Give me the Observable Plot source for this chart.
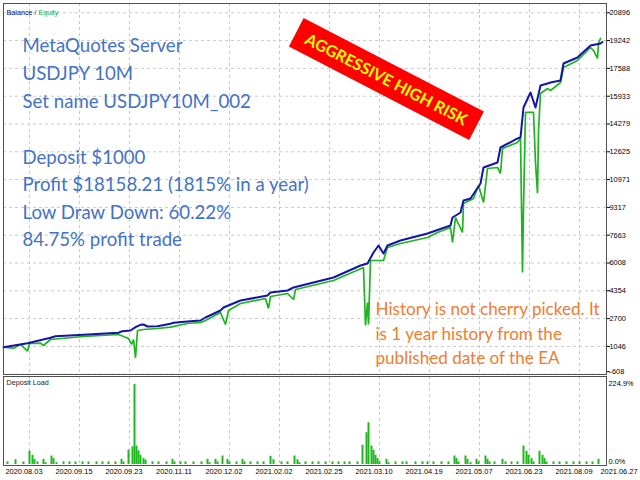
<!DOCTYPE html>
<html><head><meta charset="utf-8">
<script src="https://cdn.jsdelivr.net/npm/d3@7"></script>
<script src="https://cdn.jsdelivr.net/npm/@observablehq/plot@0.6"></script>
<style>
html,body{margin:0;padding:0;background:#fff;}
#wrap{position:relative;width:640px;height:480px;overflow:hidden;background:#fff;}
#wrap svg{position:absolute;left:0;overflow:visible;}
#banner{position:absolute;background:#ff0000;color:#ffff00;font-family:Lato;font-weight:bold;
  display:flex;align-items:center;justify-content:center;white-space:nowrap;transform-origin:center center;}
</style></head>
<body><div id="wrap"></div>
<script>
// ---- data (x = trade number along the MT5 tester axis) ----
const balanceIdx = [0,12,23.5,26,40,57.5,59.5,63.5,66,68.5,70,72,77,83.5,85,92,98.5,101,108.5,110,118.5,132,133.5,142,145,165,178.5,182,185,187.5,190,192,198.5,212,223.5,224.5,228.5,230,233.5,238.5,240,247,248.5,257,258.5,260,263.5,266,268.5,272,273.5,278.5,280,287,293.5,298.5,299.5];
const balanceVal = [1000,1237,1558,1654,1737,1856,1951,1993,2189,2332,2350,2231,2249,2391,2451,2528,2588,2766,3183,3361,3778,4075,4254,4373,4551,5146,5860,5979,6634,7050,6574,7050,7348,7764,8240,8716,9014,9728,9847,10739,11691,11989,12881,13417,13476,15261,16154,15261,16570,16689,16749,16868,17879,18236,18950,19069,19158];
const equityIdx = [0,5,8.5,12,13,18.5,20,23.5,40,57.5,62.5,64,65,66,67,70,77,83.5,92,98.5,101,108.5,111,112.5,118.5,131,132.5,133.5,142,145,146,165,180,181,182,182.5,183.5,190,192,198.5,212,217,223.5,224.5,226,229.5,230,235,237.5,240,242,247,248.5,249.5,257,258.5,259.5,260,261,265,266,267,267.5,268.5,272,273.5,278.5,280,287,293.5,295,297,297.5,298.5];
const equityVal = [1000,940,1160,761,1219,1237,1100,1457,1636,1755,1517,1160,1457,368,1993,2052,2112,2189,2409,2469,2588,3064,2350,3183,3599,3897,3302,4016,4195,3837,4432,4968,5741,2290,3659,2350,6158,6158,6931,7169,7526,7824,8121,7229,8716,7824,9549,9847,10620,9609,11632,11691,11334,12822,13179,13417,5443,9311,14976,14976,11989,10157,13893,16094,16392,16273,16749,17642,18058,18831,18653,18177,19069,19367];
const loadIdx = [2,6,10,13,14.5,15.5,17,20,21,24,25,26.5,30,33,36,39.5,42.5,46.5,49.5,52.5,56,59,60,62.5,64.5,65.5,66.5,67.5,68.5,70,71,74.5,77.5,81.5,84.5,85.5,88.5,91,95,99,102,103,106,107,109.5,112,113,116.5,119.5,120.5,123.5,127,130,133.5,135,139,142,145.5,147,148,151,154.5,157.5,161,164.5,167.5,170.5,173,177,179.5,181.5,182.5,184,185,186,187,188,191.5,192.5,196,199.5,201.5,206,209.5,212,215,219,222.5,225.5,226.5,227.5,231,232,233.5,236.5,237.5,241,242,243,245.5,249.5,251,254,257,260,261.5,262.5,264,265,268,269.5,270.5,271.5,275,278,281.5,285,288,291.5,294.5,297.5];
const loadPct = [7,13,7,36,25,14,7,14,5,23,16,5,7,7,7,7,7,7,7,7,7,14,7,39,48,217,50,37,25,16,12,7,7,7,14,7,7,7,7,7,14,5,14,7,23,14,7,7,14,7,7,7,7,22,13,7,7,23,13,5,7,7,7,7,7,7,7,7,7,52,86,113,50,39,25,16,7,14,5,7,7,7,7,7,7,7,7,7,23,16,7,23,14,5,14,7,23,14,7,7,14,7,7,7,50,36,25,16,7,36,25,16,7,7,7,7,7,7,7,7,14];
const xTickIdx = [13,38,63,88,113,138,163,188,213,238,263,288,310.5];
const xTickLabels = ["2020.08.03","2020.09.15","2020.09.23","2020.11.11","2020.12.02","2021.02.02","2021.02.25","2021.03.10","2021.04.19","2021.05.07","2021.06.23","2021.08.09","2021.06.27"];
const yTicks = [-608,1046,2700,4354,6008,7663,9317,10971,12625,14279,15933,17588,19242,20896];
const loadTicks = [0,224.9];
const infoLines1 = ["MetaQuotes Server","USDJPY 10M","Set name USDJPY10M_002"];
const infoLines2 = ["Deposit $1000","Profit $18158.21 (1815% in a year)","Low Draw Down: 60.22%","84.75% profit trade"];
const noteLines = ["History is not cherry picked. It","is 1 year history from the","published date of the EA"];
const bannerText = "AGGRESSIVE HIGH RISK";

// ---- helpers ----
const balance = balanceIdx.map((x,i)=>({x, v: balanceVal[i]}));
const equity = equityIdx.map((x,i)=>({x, v: equityVal[i]}));
const loads = loadIdx.map((x,i)=>({x, p: loadPct[i]}));
const ctx = document.createElement("canvas").getContext("2d");
function textW(t, font){ ctx.font = font; return ctx.measureText(t).width; }
function fitSize(t, w, fam, wt="normal"){ return 100*w/textW(t, `${wt} 100px ${fam}`); }

const fsBlue = (fitSize(infoLines1[2], 226, "Lato") + fitSize(infoLines2[1], 290, "Lato"))/2;
const fsNote = fitSize(noteLines[0], 225, "Lato");
const fsLeg = fitSize("Balance / Equity", 52, "Liberation Sans");
const fsBanner = fitSize(bannerText, 180, "Lato", "bold");

const XDOM = [0, 301.5];
const gridCol = "#c9c9c9";
const frameCol = "#505050";
const axisStyle = {background:"transparent", fontFamily:"Liberation Sans", fontSize:"7.4px", color:"#000", overflow:"visible"};

// legend parts
const legParts = [["Balance","#00008b"],["/","#333"],["Equity","#1fa51f"]];
const spW = textW(" ", `${fsLeg}px Liberation Sans`);
let off = 3;
const legMarks = legParts.map(([t,c]) => {
  const m = Plot.text([t], {frameAnchor:"top-left", dx: off, dy: 8.7, lineAnchor:"middle", textAnchor:"start",
    text: d=>d, fill: c, fontSize: fsLeg, fontFamily: "Liberation Sans"});
  off += textW(t, `${fsLeg}px Liberation Sans`) + spW;
  return m;
});

const innerTicks = xTickIdx.filter(d => d <= XDOM[1]);

const main = Plot.plot({
  width: 640, height: 376,
  marginLeft: 3, marginRight: 34, marginTop: 3, marginBottom: 2,
  style: axisStyle,
  x: {domain: XDOM, axis: null},
  y: {domain: [-626, 21449], axis: null},
  marks: [
    Plot.gridY(yTicks, {stroke: gridCol, strokeOpacity: 1, strokeDasharray: "3,3"}),
    Plot.gridX(innerTicks, {stroke: gridCol, strokeOpacity: 1, strokeDasharray: "3,3"}),
    Plot.axisY(yTicks.slice(1), {anchor: "right", label: null, tickSize: 3, tickPadding: 0, tickFormat: d => String(d)}),
    Plot.axisY(yTicks.slice(0,1), {anchor: "right", label: null, tickSize: 3, tickPadding: 0, dy: -2.5, tickFormat: d => String(d)}),
    Plot.text([infoLines1.join("\n")], {frameAnchor:"top-left", dx: 19, dy: 29, lineAnchor:"top", textAnchor:"start",
      text: d=>d, fill:"#4472C4", fontSize: fsBlue, fontFamily:"Lato", lineHeight: 27.9/fsBlue}),
    Plot.text([infoLines2.join("\n")], {frameAnchor:"top-left", dx: 19, dy: 140.5, lineAnchor:"top", textAnchor:"start",
      text: d=>d, fill:"#4472C4", fontSize: fsBlue, fontFamily:"Lato", lineHeight: 27.5/fsBlue}),
    Plot.text([noteLines.join("\n")], {frameAnchor:"top-left", dx: 372, dy: 294, lineAnchor:"top", textAnchor:"start",
      text: d=>d, fill:"#ED7D31", fontSize: fsNote, fontFamily:"Lato", lineHeight: 24.7/fsNote}),
    Plot.line(equity, {x: "x", y: "v", stroke: "#1fb41f", strokeWidth: 1.7, strokeLinejoin: "miter"}),
    Plot.line(balance, {x: "x", y: "v", stroke: "#1414a8", strokeWidth: 2}),
    ...legMarks,
    Plot.frame({stroke: frameCol})
  ]
});
main.style.top = "0px";

const low = Plot.plot({
  width: 640, height: 105,
  marginLeft: 3, marginRight: 34, marginTop: 1, marginBottom: 15,
  style: axisStyle,
  x: {domain: XDOM, axis: null},
  y: {domain: [-2.7, 238.4], axis: null},
  marks: [
    Plot.gridX(innerTicks, {stroke: gridCol, strokeOpacity: 1, strokeDasharray: "3,3"}),
    Plot.ruleX(loads, {x: "x", y1: 0, y2: "p", stroke: "#1eb81e", strokeWidth: 2}),
    Plot.axisY(loadTicks.slice(1), {anchor: "right", label: null, tickSize: 0, tickPadding: 2, dy: 2, tickFormat: d => d.toFixed(1) + "%"}),
    Plot.axisY(loadTicks.slice(0,1), {anchor: "right", label: null, tickSize: 0, tickPadding: 2, dy: -2.5, tickFormat: d => d.toFixed(1) + "%"}),
    Plot.axisX(xTickIdx, {anchor: "bottom", label: null, tickSize: 0, tickPadding: 3, dx: -5.5,
      tickFormat: d => xTickLabels[xTickIdx.indexOf(d)]}),
    Plot.text(["Deposit Load"], {frameAnchor:"top-left", dx: 3, dy: 6, lineAnchor:"middle", textAnchor:"start",
      text: d=>d, fill:"#222", fontSize: fsLeg, fontFamily:"Liberation Sans"}),
    Plot.frame({stroke: frameCol})
  ]
});
low.style.top = "375px";

const wrap = document.getElementById("wrap");
wrap.appendChild(main);
wrap.appendChild(low);

// rotated banner annotation
const b = document.createElement("div");
b.id = "banner";
b.textContent = bannerText;
const bw = 203, bh = 31.6, cx = 386.7, cy = 78.3;
Object.assign(b.style, {left: (cx - bw/2) + "px", top: (cy - bh/2) + "px", width: bw + "px", height: bh + "px",
  fontSize: fsBanner + "px", transform: "rotate(27.4deg)"});
wrap.appendChild(b);
</script>
</body></html>
